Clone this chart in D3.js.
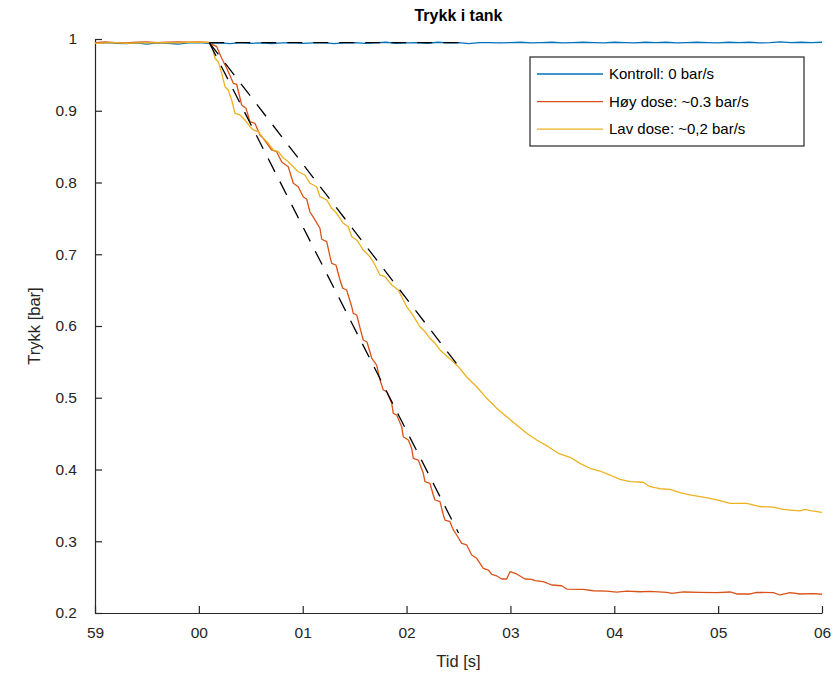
<!DOCTYPE html>
<html>
<head>
<meta charset="utf-8">
<script src="https://cdn.jsdelivr.net/npm/d3@7"></script>
<style>
  body { margin: 0; background: #fff; }
</style>
</head>
<body>
<script>
// tick labels + legend text
const xTicks = [-1, 0, 1, 2, 3, 4, 5, 6];
const xTickLabels = ["59", "00", "01", "02", "03", "04", "05", "06"];
const yTicks = [0.2, 0.3, 0.4, 0.5, 0.6, 0.7, 0.8, 0.9, 1];
const yTickLabels = ["0.2", "0.3", "0.4", "0.5", "0.6", "0.7", "0.8", "0.9", "1"];
const seriesNames = ["Kontroll: 0 bar/s", "Høy dose: ~0.3 bar/s", "Lav dose: ~0,2 bar/s"];

const controlTime = [-1.0, -0.9, -0.8, -0.7, -0.6, -0.5, -0.4, -0.3, -0.2, -0.1,
  0.0, 0.1, 0.2, 0.3, 0.4, 0.5, 0.6, 0.7, 0.8, 0.9,
  1.0, 1.1, 1.2, 1.3, 1.4, 1.5, 1.6, 1.7, 1.8, 1.9,
  2.0, 2.1, 2.2, 2.3, 2.4, 2.5, 2.6, 2.7, 2.8, 2.9,
  3.0, 3.1, 3.2, 3.3, 3.4, 3.5, 3.6, 3.7, 3.8, 3.9,
  4.0, 4.1, 4.2, 4.3, 4.4, 4.5, 4.6, 4.7, 4.8, 4.9,
  5.0, 5.1, 5.2, 5.3, 5.4, 5.5, 5.6, 5.7, 5.8, 5.9, 6.0];
const controlValues = [0.9945, 0.9950, 0.9940, 0.9935, 0.9945, 0.9930, 0.9945, 0.9940, 0.9930, 0.9945,
  0.9950, 0.9940, 0.9945, 0.9935, 0.9950, 0.9940, 0.9945, 0.9935, 0.9945, 0.9950,
  0.9940, 0.9945, 0.9950, 0.9935, 0.9945, 0.9950, 0.9940, 0.9945, 0.9955, 0.9940,
  0.9945, 0.9950, 0.9940, 0.9955, 0.9945, 0.9950, 0.9935, 0.9950, 0.9950, 0.9945,
  0.9950, 0.9955, 0.9945, 0.9950, 0.9955, 0.9945, 0.9950, 0.9955, 0.9950, 0.9945,
  0.9955, 0.9950, 0.9945, 0.9955, 0.9950, 0.9955, 0.9945, 0.9950, 0.9955, 0.9950,
  0.9945, 0.9955, 0.9950, 0.9955, 0.9945, 0.9950, 0.9960, 0.9950, 0.9955, 0.9950, 0.9955];

// høy dose (red)
const highTime = [-1.0, -0.9, -0.8, -0.7, -0.6, -0.5, -0.4, -0.3, -0.2, -0.1, 0.0,
  0.091, 0.172, 0.220, 0.268, 0.332, 0.364, 0.412, 0.454, 0.492, 0.540,
  0.588, 0.620, 0.701, 0.749, 0.798, 0.861, 0.909, 0.957, 1.006, 1.038,
  1.070, 1.109, 1.166, 1.183, 1.231, 1.263, 1.279, 1.320, 1.359, 1.385,
  1.423, 1.472, 1.487, 1.520, 1.561, 1.583, 1.619, 1.664, 1.712, 1.744,
  1.776, 1.809, 1.857, 1.872, 1.905, 1.953, 1.968, 2.017, 2.049, 2.065,
  2.113, 2.161, 2.177, 2.225, 2.257, 2.274, 2.322, 2.354, 2.370, 2.418,
  2.450, 2.483, 2.531, 2.579, 2.627, 2.675, 2.739, 2.787, 2.820, 2.868,
  2.916, 2.964, 2.996, 3.060, 3.140, 3.205, 3.237, 3.316, 3.397, 3.494,
  3.542, 3.702, 3.798, 3.927, 4.023, 4.120, 4.248, 4.344, 4.505, 4.553,
  4.665, 4.826, 4.986, 5.115, 5.179, 5.307, 5.372, 5.532, 5.596, 5.693,
  5.789, 5.916, 6.0];
const highValues = [0.9950, 0.9960, 0.9950, 0.9945, 0.9955, 0.9960, 0.9950, 0.9955, 0.9960, 0.9955, 0.9960,
  0.9954, 0.9893, 0.9731, 0.9592, 0.9383, 0.9369, 0.9080, 0.9034, 0.8847, 0.8825,
  0.8662, 0.8616, 0.8453, 0.8429, 0.8286, 0.8220, 0.7989, 0.7941, 0.7798, 0.7770,
  0.7589, 0.7501, 0.7362, 0.7209, 0.7175, 0.6966, 0.6874, 0.6850, 0.6641, 0.6526,
  0.6502, 0.6269, 0.6177, 0.6153, 0.5921, 0.5805, 0.5777, 0.5554, 0.5456, 0.5247,
  0.5108, 0.5084, 0.4923, 0.4783, 0.4760, 0.4597, 0.4457, 0.4411, 0.4295, 0.4156,
  0.4132, 0.3947, 0.3830, 0.3808, 0.3645, 0.3575, 0.3551, 0.3366, 0.3296, 0.3272,
  0.3157, 0.3087, 0.2971, 0.2948, 0.2808, 0.2762, 0.2623, 0.2599, 0.2539, 0.2516,
  0.2474, 0.2474, 0.2576, 0.2544, 0.2474, 0.2470, 0.2451, 0.2437, 0.2390, 0.2380,
  0.2334, 0.2330, 0.2310, 0.2306, 0.2292, 0.2306, 0.2296, 0.2302, 0.2288, 0.2274,
  0.2293, 0.2288, 0.2283, 0.2293, 0.2265, 0.2265, 0.2288, 0.2283, 0.2251, 0.2283,
  0.2265, 0.2269, 0.2261];

// lav dose (yellow)
const lowTime = [-1.0, -0.9, -0.8, -0.7, -0.6, -0.5, -0.4, -0.3, -0.2, -0.1, 0.0,
  0.091, 0.124, 0.155, 0.187, 0.220, 0.252, 0.283, 0.316, 0.348, 0.396,
  0.444, 0.492, 0.524, 0.572, 0.620, 0.669, 0.717, 0.765, 0.813, 0.861,
  0.909, 0.957, 1.021, 1.070, 1.134, 1.166, 1.231, 1.279, 1.327, 1.391,
  1.439, 1.472, 1.520, 1.583, 1.647, 1.696, 1.744, 1.792, 1.857, 1.920,
  1.953, 2.001, 2.049, 2.129, 2.177, 2.225, 2.274, 2.322, 2.386, 2.450,
  2.498, 2.579, 2.675, 2.772, 2.868, 2.964, 3.060, 3.157, 3.253, 3.365,
  3.461, 3.574, 3.670, 3.766, 3.863, 3.959, 4.055, 4.152, 4.279, 4.344,
  4.440, 4.536, 4.632, 4.729, 4.826, 4.922, 5.018, 5.115, 5.275, 5.403,
  5.531, 5.627, 5.724, 5.789, 5.837, 5.901, 6.0];
const lowValues = [0.9940, 0.9945, 0.9950, 0.9940, 0.9945, 0.9950, 0.9945, 0.9950, 0.9945, 0.9955, 0.9955,
  0.9954, 0.9916, 0.9731, 0.9684, 0.9522, 0.9335, 0.9289, 0.9150, 0.8964, 0.8941,
  0.8871, 0.8778, 0.8732, 0.8708, 0.8616, 0.8546, 0.8453, 0.8429, 0.8341, 0.8290,
  0.8220, 0.8150, 0.8105, 0.7989, 0.7941, 0.7802, 0.7756, 0.7640, 0.7571, 0.7431,
  0.7384, 0.7245, 0.7199, 0.7059, 0.6966, 0.6850, 0.6711, 0.6687, 0.6571, 0.6502,
  0.6408, 0.6269, 0.6177, 0.5990, 0.5921, 0.5829, 0.5759, 0.5666, 0.5582, 0.5502,
  0.5433, 0.5289, 0.5154, 0.4992, 0.4853, 0.4736, 0.4620, 0.4505, 0.4411, 0.4318,
  0.4226, 0.4170, 0.4086, 0.4017, 0.3979, 0.3923, 0.3863, 0.3830, 0.3822, 0.3760,
  0.3732, 0.3724, 0.3677, 0.3645, 0.3621, 0.3599, 0.3565, 0.3529, 0.3529, 0.3482,
  0.3477, 0.3445, 0.3431, 0.3422, 0.3445, 0.3422, 0.3403];

// dashed linear fits
const fitTime = [0.1, 2.5];
const fitControl = [0.995, 0.995];
const fitHigh = [0.995, 0.3115];
const fitLow = [0.995, 0.544];

const width = 835;
const height = 675;
const margin = { left: 95, right: 13, top: 39, bottom: 62 };
const font = "'Liberation Sans', Arial, Helvetica, sans-serif";
const axisColor = "#262626";
const colors = ["#0072BD", "#D95319", "#EDB120"];

const svg = d3.select("body")
    .append("svg")
    .attr("width", width)
    .attr("height", height)
    .style("display", "block")
    .style("font-family", font);

const x = d3.scaleLinear()
    .domain([-1, 6])
    .range([margin.left, width - margin.right]);

const y = d3.scaleLinear()
    .domain([0.2, 1])
    .range([height - margin.bottom, margin.top]);

// axes, matlab style: ticks pointing in, no box on top/right
const xAxis = d3.axisBottom(x)
    .tickValues(xTicks)
    .tickFormat((d, i) => xTickLabels[i])
    .tickSizeInner(-7)
    .tickSizeOuter(0)
    .tickPadding(14);

const yAxis = d3.axisLeft(y)
    .tickValues(yTicks)
    .tickFormat((d, i) => yTickLabels[i])
    .tickSizeInner(-7)
    .tickSizeOuter(0)
    .tickPadding(18);

const gx = svg.append("g")
    .attr("transform", `translate(0,${height - margin.bottom})`)
    .call(xAxis);

const gy = svg.append("g")
    .attr("transform", `translate(${margin.left},0)`)
    .call(yAxis);

[gx, gy].forEach(g => {
    g.select(".domain").attr("stroke", axisColor).attr("stroke-width", 1.2);
    g.selectAll(".tick line").attr("stroke", axisColor).attr("stroke-width", 1.2);
    g.selectAll(".tick text")
        .attr("fill", axisColor)
        .style("font-family", font)
        .style("font-size", "15.5px");
});

// clip so the lines stay inside the plot
svg.append("clipPath")
    .attr("id", "plotClip")
    .append("rect")
    .attr("x", margin.left)
    .attr("y", margin.top - 5)
    .attr("width", width - margin.left - margin.right + 1)
    .attr("height", height - margin.top - margin.bottom + 5);

const plot = svg.append("g").attr("clip-path", "url(#plotClip)");

const line = d3.line()
    .x(d => x(d[0]))
    .y(d => y(d[1]));

const series = [
    { name: seriesNames[0], time: controlTime, values: controlValues, color: colors[0] },
    { name: seriesNames[1], time: highTime, values: highValues, color: colors[1] },
    { name: seriesNames[2], time: lowTime, values: lowValues, color: colors[2] }
];

series.forEach(s => {
    plot.append("path")
        .datum(s.time.map((t, i) => [t, s.values[i]]))
        .attr("fill", "none")
        .attr("stroke", s.color)
        .attr("stroke-width", 1.3)
        .attr("stroke-linejoin", "round")
        .attr("d", line);
});

// black dashed fit lines
[fitControl, fitHigh, fitLow].forEach(f => {
    plot.append("path")
        .datum(fitTime.map((t, i) => [t, f[i]]))
        .attr("fill", "none")
        .attr("stroke", "#000")
        .attr("stroke-width", 1.3)
        .attr("stroke-dasharray", "15,11")
        .attr("d", line);
});

// title + axis labels
svg.append("text")
    .attr("x", (x(-1) + x(6)) / 2)
    .attr("y", 21)
    .attr("text-anchor", "middle")
    .style("font-size", "16px")
    .style("font-weight", "bold")
    .attr("fill", "#000")
    .text("Trykk i tank");

svg.append("text")
    .attr("x", (x(-1) + x(6)) / 2)
    .attr("y", 667)
    .attr("text-anchor", "middle")
    .style("font-size", "16.5px")
    .attr("fill", axisColor)
    .text("Tid [s]");

svg.append("text")
    .attr("transform", `translate(40,${(y(0.2) + y(1)) / 2}) rotate(-90)`)
    .attr("text-anchor", "middle")
    .style("font-size", "16.5px")
    .attr("fill", axisColor)
    .text("Trykk [bar]");

// legend box top right
const legend = svg.append("g").attr("transform", "translate(530,57)");

legend.append("rect")
    .attr("width", 274)
    .attr("height", 89)
    .attr("fill", "#fff")
    .attr("stroke", axisColor)
    .attr("stroke-width", 1.2);

series.forEach((s, i) => {
    const row = legend.append("g").attr("transform", `translate(0,${17 + i * 27.6})`);
    row.append("line")
        .attr("x1", 7)
        .attr("x2", 73)
        .attr("stroke", s.color)
        .attr("stroke-width", 1.3);
    row.append("text")
        .attr("x", 79)
        .attr("dy", "0.35em")
        .style("font-size", "15px")
        .attr("fill", "#000")
        .text(s.name);
});
</script>
</body>
</html>
